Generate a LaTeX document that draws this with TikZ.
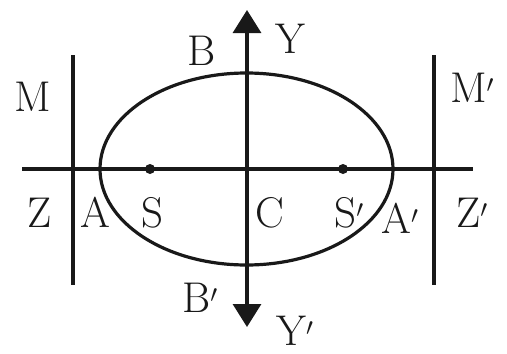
\documentclass[tikz,border=0pt]{standalone}
\usetikzlibrary{arrows.meta}
\begin{document}
\begin{tikzpicture}[x=1pt,y=-1pt,
  axisline/.style={line width=3.2pt,draw=black!90},
  lbl/.style={font=\fontsize{43}{43}\selectfont,inner sep=0pt,anchor=base,text=black!90},
  focusdot/.style={circle,fill=black!90,inner sep=0pt,minimum size=10pt}]
\useasboundingbox (0,0) rectangle (507,354);
% key points
\coordinate (C) at (246.5,169);
\coordinate (XL) at (22,169);
\coordinate (XR) at (473,169);
\coordinate (YT) at (247,10);
\coordinate (YB) at (247,327);
\coordinate (ML1) at (73,55);
\coordinate (ML2) at (73,285);
\coordinate (MR1) at (434,55);
\coordinate (MR2) at (434,285);
% lines
\draw[axisline] (XL) -- (XR);
\draw[axisline] (ML1) -- (ML2);
\draw[axisline] (MR1) -- (MR2);
\draw[axisline,{Triangle[width=28pt,length=23pt]}-{Triangle[width=28pt,length=23pt]}] (YB) -- (YT);
% ellipse
\draw[axisline] (C) ellipse [x radius=146.5, y radius=96];
% foci
\node[focusdot] (S) at (150,169) {};
\node[focusdot] (Sp) at (343,169) {};
% labels
\node[lbl] (lM) at (33,111) {M};
\node[lbl] (lMp) at (472,102) {M$'$};
\node[lbl] (lB) at (202,65) {B};
\node[lbl] (lY) at (290,53) {Y};
\node[lbl] (lZ) at (40,227) {Z};
\node[lbl] (lA) at (95,227) {A};
\node[lbl] (lS) at (152,227) {S};
\node[lbl] (lC) at (270,227) {C};
\node[lbl] (lSp) at (349,227) {S$'$};
\node[lbl] (lAp) at (400,233) {A$'$};
\node[lbl] (lZp) at (472,227) {Z$'$};
\node[lbl] (lBp) at (200,312) {B$'$};
\node[lbl] (lYp) at (295,345) {Y$'$};
\end{tikzpicture}
\end{document}
